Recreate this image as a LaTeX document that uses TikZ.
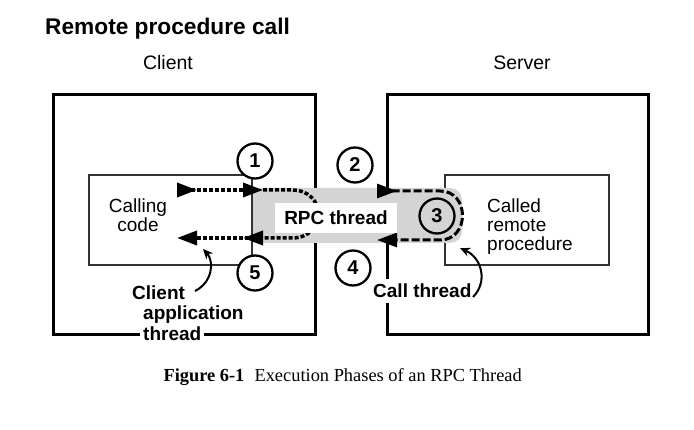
\documentclass[tikz,border=0pt]{standalone}
\usepackage{fontspec}
\setmainfont{Liberation Sans}
\newfontfamily\capfont{Liberation Serif}
\usetikzlibrary{arrows.meta}
\begin{document}
\begin{tikzpicture}[x=1pt,y=-1pt,
  outerbox/.style={draw=black,line width=3pt},
  innerbox/.style={draw=black!80,line width=2.5pt},
  num/.style={circle,draw=black,line width=2.3pt,fill=white,minimum size=35pt,inner sep=0pt,font=\fontsize{20}{22}\selectfont\bfseries},
  dotline/.style={line width=3.5pt,dash pattern=on 4pt off 2pt},
  dashline/.style={line width=3pt,dash pattern=on 8pt off 3pt},
  trif/.tip={Triangle[length=20pt,width=14pt]},
  trib/.tip={Triangle[length=20pt,width=14pt,reversed]},
  pointer/.style={line width=2pt,-{Stealth[length=10pt,width=9pt]}},
  lab/.style={font=\fontsize{19}{19}\selectfont\bfseries,inner sep=0pt},
  plain/.style={font=\fontsize{19}{19}\selectfont,inner sep=0pt},
]
\useasboundingbox (0,0) rectangle (694,430);
\fill[white] (0,0) rectangle (694,430);

% titles
\node[anchor=base west,inner sep=0pt,font=\fontsize{22.7}{26}\selectfont\bfseries] (title) at (45,35) {Remote procedure call};
\node[anchor=base,inner sep=0pt,font=\fontsize{19.5}{22}\selectfont] (clientlbl) at (168,70) {Client};
\node[anchor=base,inner sep=0pt,font=\fontsize{19.5}{22}\selectfont] (serverlbl) at (522,70) {Server};

% outer boxes
\draw[outerbox] (53,95) rectangle (315,335);
\draw[outerbox] (387,95) rectangle (648,335);

% called procedure box
\draw[innerbox] (445,175) rectangle (609,265);

% RPC thread band
\fill[black!17] (252,188) [rounded corners=12pt] -- (462,188) -- (462,243) [sharp corners] -- (252,243) -- cycle;

% calling code box
\draw[innerbox] (89,175) rectangle (252,265);

\node[plain,anchor=north,align=center] (calling) at (138,199) {Calling\\code};
\node[plain,anchor=north west,align=left] (called) at (487,199) {Called\\remote\\procedure};

% coordinates for thread paths
\coordinate (c1) at (177,190);
\coordinate (c2) at (263,190);
\coordinate (c3) at (292,190);
\coordinate (c4) at (292,238);
\coordinate (c5) at (263,238);
\coordinate (c6) at (177,238);
\coordinate (s1) at (377,191);
\coordinate (s2) at (440,191);
\coordinate (s3) at (440,240);
\coordinate (s4) at (377,240);

% client side dotted
\draw[dotline,{trib}-{trif}] (c1) -- (c2);
\draw[dotline] (c2) -- (c3) .. controls (327,190) and (327,238) .. (c4) -- (c5);
\draw[dotline,{trib}-{trif}] (c5) -- (c6);

% server side dashed
\draw[dashline,{trib}-{trif}] (s1) -- (s2) .. controls (470,191) and (470,240) .. (s3) -- (s4);

% RPC thread label
\node[lab,fill=white,minimum width=122pt,minimum height=30pt] (rpc) at (336,218) {RPC thread};

% numbers
\node[num] (n1) at (255,161) {1};
\node[num] (n2) at (355,165) {2};
\node[num,fill=none] (n3) at (437,216) {3};
\node[num] (n4) at (353,268) {4};
\node[num] (n5) at (255,273) {5};

% labels with pointers
\node[lab,anchor=base west] (cl1) at (132,300) {Client};
\node[lab,anchor=base west] (cl2) at (143,320) {application};
\node[lab,anchor=base west,fill=white,inner xsep=3pt,inner ysep=2pt] (cl3) at (140,341) {thread};
\node[lab,anchor=base west,fill=white,inner xsep=2pt,inner ysep=5pt] (callthr) at (371,298) {Call thread};

\coordinate (p1s) at (195,291);
\coordinate (p1e) at (203,249);
\draw[pointer] (p1s) .. controls (213,282) and (214,261) .. (p1e);
\coordinate (p2s) at (473,297);
\coordinate (p2e) at (460,248);
\draw[pointer] (p2s) .. controls (488,282) and (482,258) .. (p2e);

% caption
\node[anchor=base east,inner sep=0pt,font=\capfont\fontsize{18.4}{22}\selectfont] (caption) at (522,382) {\textbf{Figure 6-1}\hspace{0.55em}Execution Phases of an RPC Thread};
\end{tikzpicture}
\end{document}
